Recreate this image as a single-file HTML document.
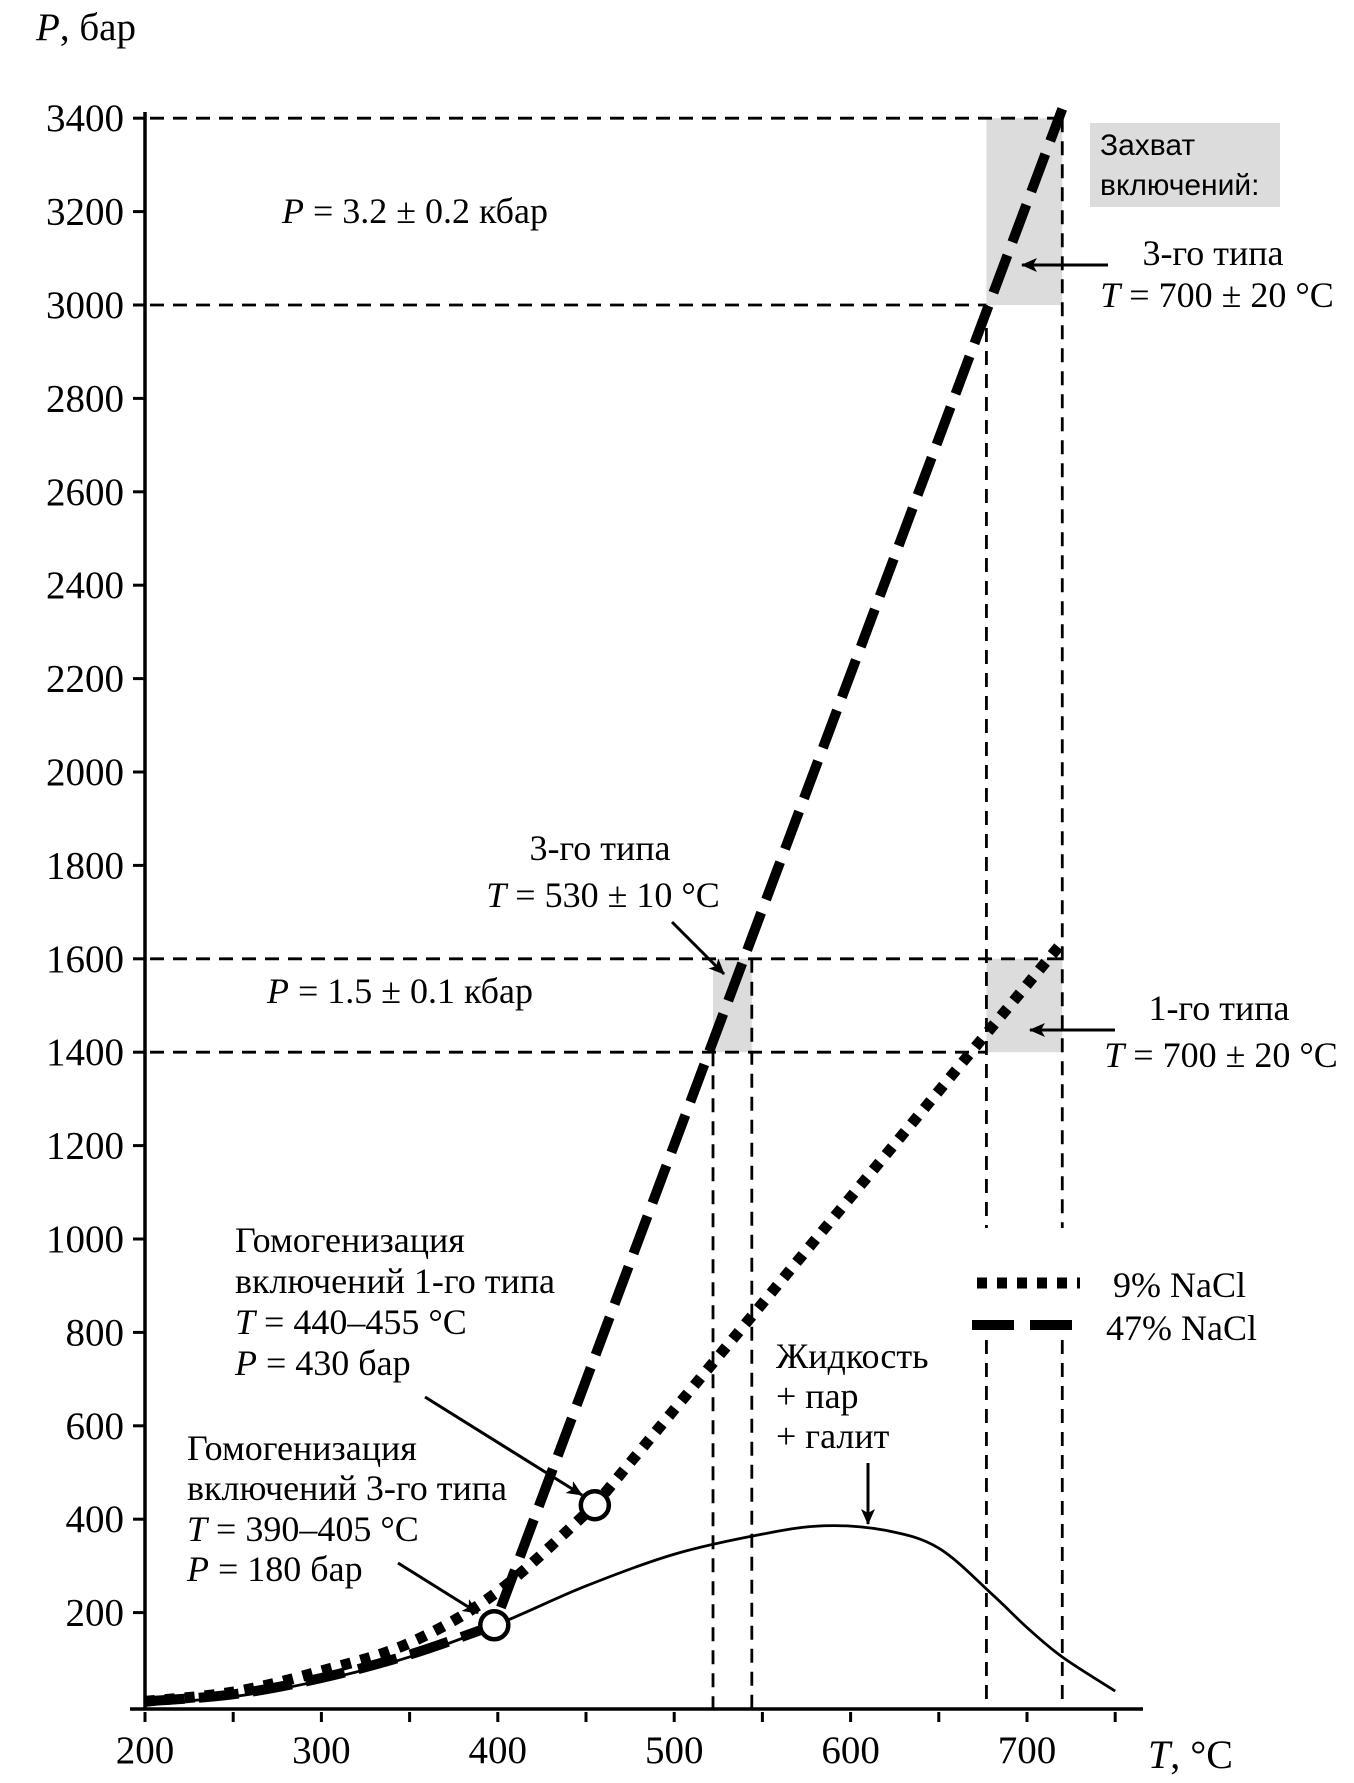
<!DOCTYPE html>
<html><head><meta charset="utf-8">
<style>
html,body{margin:0;padding:0;background:#fff;}
svg{display:block;}
text{font-family:"Liberation Serif","Noto Serif CJK SC",serif;fill:#000;}
.sans{font-family:"Liberation Sans","Noto Sans CJK SC",sans-serif;}
</style></head>
<body>
<svg id="chart" width="1354" height="1783" viewBox="0 0 1354 1783" xmlns="http://www.w3.org/2000/svg">
<defs>
<marker id="ah" markerWidth="16" markerHeight="14" refX="15" refY="7" orient="auto" markerUnits="userSpaceOnUse" viewBox="0 0 16 14">
<path d="M0,0 L16,7 L0,14 L4,7 Z" fill="#000"/></marker>
</defs>
<g id="layer-boxes"></g>
<g id="layer-guides"></g>
<g id="layer-series"></g>
<g id="layer-axes"></g>
<g id="layer-text"></g>
</svg>
<script>
const xTicks=[200,250,300,350,400,450,500,550,600,650,700,750];
const xTickLabels=[200,300,400,500,600,700];
const yTicks=[200,400,600,800,1000,1200,1400,1600,1800,2000,2200,2400,2600,2800,3000,3200,3400];
const t47=[200,250,300,350,398,720];
const p47=[10,25,60,110,173,3420];
const t9=[200,250,300,350,400,455,721];
const p9=[10,30,75,135,245,430,1640];
const tLVH=[200,250,300,350,400,450,500,550,585,620,650,680,700,720,750];
const pLVH=[5,20,55,105,175,257,325,368,386,376,338,240,168,105,32];
const boxT=[[677,720],[522,544],[677,720]];
const boxP=[[3000,3400],[1400,1600],[1400,1600]];
const circleT=[398,455];
const circleP=[173,430];

const NS="http://www.w3.org/2000/svg";
const X=t=>145+(t-200)*1.764;
const Y=p=>1706-p*0.467;
function el(tag,attrs,parent){const e=document.createElementNS(NS,tag);for(const k in attrs)e.setAttribute(k,attrs[k]);parent.appendChild(e);return e;}
const gB=document.getElementById('layer-boxes'),gG=document.getElementById('layer-guides'),gS=document.getElementById('layer-series'),gA=document.getElementById('layer-axes'),gT=document.getElementById('layer-text');

boxT.forEach((bt,i)=>{
 const r=el('rect',{x:X(bt[0]),y:Y(boxP[i][1]),width:X(bt[1])-X(bt[0]),height:Y(boxP[i][0])-Y(boxP[i][1]),fill:'#dcdcdc'},gB);
 
 
});
const lb=el('rect',{x:1090,y:123,width:190,height:84,fill:'#dcdcdc'},gB);



const gs={stroke:'#000','stroke-width':2.8,'stroke-dasharray':'14 9',fill:'none'};
function guide(x1,y1,x2,y2,name){const l=el('line',Object.assign({x1,y1,x2,y2},gs),gG);}
guide(150,Y(3400),X(720),Y(3400),'guide-p3400');
guide(150,Y(3000),X(677),Y(3000),'guide-p3000');
guide(150,Y(1600),X(720),Y(1600),'guide-p1600');
guide(150,Y(1400),X(677),Y(1400),'guide-p1400');
guide(X(677),Y(3000),X(677),1228,'guide-t680-upper');
guide(X(720),Y(3400),X(720),1228,'guide-t720-upper');
guide(X(677),1340,X(677),1708,'guide-t680-lower');
guide(X(720),1340,X(720),1708,'guide-t720-lower');
guide(X(522),Y(1400),X(522),1708,'guide-t520');
guide(X(544),Y(1600),X(544),1708,'guide-t540');

function smooth(ts,ps){
 const pts=ts.map((t,i)=>[X(t),Y(ps[i])]);
 let d='M'+pts[0][0]+','+pts[0][1];
 for(let i=0;i<pts.length-1;i++){
  const p0=pts[Math.max(0,i-1)],p1=pts[i],p2=pts[i+1],p3=pts[Math.min(pts.length-1,i+2)];
  const c1=[p1[0]+(p2[0]-p0[0])/6,p1[1]+(p2[1]-p0[1])/6];
  const c2=[p2[0]-(p3[0]-p1[0])/6,p2[1]-(p3[1]-p1[1])/6];
  d+=` C${c1[0]},${c1[1]} ${c2[0]},${c2[1]} ${p2[0]},${p2[1]}`;
 }
 return d;
}
function linear(ts,ps,from){let d='';for(let i=from;i<ts.length;i++)d+=(i===from?'M':'L')+X(ts[i])+','+Y(ps[i]);return d;}

const lv=el('path',{d:smooth(tLVH,pLVH),stroke:'#000','stroke-width':2.8,fill:'none'},gS);



const d9=smooth(t9.slice(0,6),p9.slice(0,6))+' '+linear(t9,p9,5).replace('M','L');
const s9=el('path',{d:d9,stroke:'#000','stroke-width':11,'stroke-dasharray':'10 10',fill:'none'},gS);



const d47=smooth(t47.slice(0,5),p47.slice(0,5))+' '+linear(t47,p47,4).replace('M','L');
const s47=el('path',{d:d47,stroke:'#000','stroke-width':10,'stroke-dasharray':'40 14',fill:'none'},gS);



circleT.forEach((t,i)=>{
 const c=el('circle',{cx:X(t),cy:Y(circleP[i]),r:14,fill:'#fff',stroke:'#000','stroke-width':4.5},gS);
 
 
});

const ax=el('line',{x1:130,y1:1709,x2:1143,y2:1709,stroke:'#000','stroke-width':3.5},gA);


const ay=el('line',{x1:145,y1:112,x2:145,y2:1709,stroke:'#000','stroke-width':3.5},gA);


xTicks.forEach(t=>{
 const l=el('line',{x1:X(t),y1:1712,x2:X(t),y2:1722,stroke:'#000','stroke-width':3},gA);
 
 
});
xTickLabels.forEach(t=>{
 const tx=el('text',{x:X(t),y:1763,'font-size':39,'text-anchor':'middle'},gA);
 tx.textContent=t;
 
 
});
yTicks.forEach(p=>{
 const l=el('line',{x1:133,y1:Y(p),x2:145,y2:Y(p),stroke:'#000','stroke-width':3},gA);
 
 
 const tx=el('text',{x:124,y:Y(p)+13,'font-size':39,'text-anchor':'end'},gA);
 tx.textContent=p;
 
 
});

function arrow(x1,y1,x2,y2,name){const l=el('line',{x1,y1,x2,y2,stroke:'#000','stroke-width':3,'marker-end':'url(#ah)'},gT);}
arrow(1108,265,1022,265,'arrow-type3-700');
arrow(672,922,724,974,'arrow-type3-530');
arrow(1115,1030,1030,1030,'arrow-type1-700');
arrow(425,1397,582,1495,'arrow-homog-type1');
arrow(398,1563,478,1613,'arrow-homog-type3');
arrow(868,1463,868,1524,'arrow-lvh');

const lg1=el('line',{x1:977,y1:1283,x2:1080,y2:1283,stroke:'#000','stroke-width':11,'stroke-dasharray':'10 10'},gT);


const lg2=el('line',{x1:972,y1:1325,x2:1074,y2:1325,stroke:'#000','stroke-width':10,'stroke-dasharray':'42 16'},gT);


</script>
<script>
(function(){
const NS="http://www.w3.org/2000/svg";
const g=document.getElementById('layer-text');
function t(x,y,html,name,anchor,size,cls){
 const e=document.createElementNS(NS,'text');
 e.setAttribute('x',x);e.setAttribute('y',y);e.setAttribute('font-size',size||36);
 if(anchor)e.setAttribute('text-anchor',anchor);
 if(cls)e.setAttribute('class',cls);
 e.innerHTML=html;
 
 
 g.appendChild(e);
}
const I=s=>'<tspan font-style="italic">'+s+'</tspan>';
t(36,40,I('P')+', бар','y-axis-title',null,39);
t(1148,1768,I('T')+', °C','x-axis-title',null,40);
t(282,223,I('P')+' = 3.2 ± 0.2 кбар','pressure-label-3200');
t(267,1003,I('P')+' = 1.5 ± 0.1 кбар','pressure-label-1500');
t(1100,155,'Захват','legend-title-line1',null,30,'sans');
t(1100,195,'включений:','legend-title-line2',null,30,'sans');
t(1213,265,'3-го типа','type3-700-label-1','middle');
t(1217,307,I('T')+' = 700 ± 20 °C','type3-700-label-2','middle');
t(600,860,'3-го типа','type3-530-label-1','middle');
t(603,907,I('T')+' = 530 ± 10 °C','type3-530-label-2','middle');
t(1219,1020,'1-го типа','type1-700-label-1','middle');
t(1221,1067,I('T')+' = 700 ± 20 °C','type1-700-label-2','middle');
t(1113,1297,'9% NaCl','legend-9pct');
t(1106,1340,'47% NaCl','legend-47pct');
t(235,1252,'Гомогенизация','homog1-line1');
t(235,1293,'включений 1-го типа','homog1-line2');
t(235,1334,I('T')+' = 440–455 °C','homog1-line3');
t(235,1375,I('P')+' = 430 бар','homog1-line4');
t(187,1460,'Гомогенизация','homog3-line1');
t(187,1500,'включений 3-го типа','homog3-line2');
t(187,1541,I('T')+' = 390–405 °C','homog3-line3');
t(187,1581,I('P')+' = 180 бар','homog3-line4');
t(776,1368,'Жидкость','lvh-line1');
t(776,1408,'+ пар','lvh-line2');
t(776,1448,'+ галит','lvh-line3');
})();
</script>
</body></html>
